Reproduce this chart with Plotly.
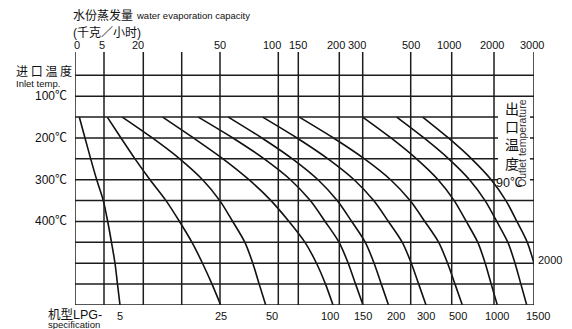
import plotly.graph_objects as go

# ---------------- data ----------------
# inlet temperature rows (℃) at which curve points were read
curve_temps = [150, 200, 250, 300, 350, 400, 450, 500, 550, 600]
# horizontal grid rows (℃)
grid_temps = [50, 100, 150, 200, 250, 300, 350, 400, 450, 500, 550, 600]
inlet_tick_vals = [100, 200, 300, 400]
inlet_tick_text = ["100℃", "200℃", "300℃", "400℃"]

# evaporation-capacity scale (nomogram units) and its labels
cap_line_pos = [0, 29, 68.3, 106.7, 145, 203.3, 223.3, 264.3, 287.7, 335.7, 376.7, 419, 459]
cap_labels = ["0", "5", "20", "", "50", "100", "150", "200", "300", "500", "1000", "2000", "3000"]

# LPG specification curves (x in nomogram units at each curve_temps row)
spec_labels = ["5", "25", "50", "100", "150", "200", "300", "500", "1000", "1500", "2000"]
curve_5 = [4.3, 10, 15.7, 21.7, 28.3, 32.7, 36.5, 40, 42.5, 45]
curve_25 = [32.3, 46, 60, 75, 91, 104.5, 117, 127.5, 137, 145.7]
curve_50 = [47.3, 77.4, 104.7, 127.6, 144.8, 157.7, 169.9, 177.8, 184.2, 190.7]
curve_100 = [87.7, 118.5, 148, 174, 196, 214, 230, 241.5, 250.5, 258]
curve_150 = [123.3, 157.9, 189.2, 215.5, 235.3, 250.1, 264.1, 273.2, 280.6, 288]
curve_200 = [153.3, 186.9, 217.4, 243, 262.2, 276.7, 290.3, 299.1, 306.3, 313.5]
curve_300 = [187.7, 222, 253, 279.1, 298.7, 313.4, 327.3, 336.3, 343.7, 351]
curve_500 = [224.3, 258.5, 289.5, 315.6, 335.1, 349.8, 363.7, 372.6, 380, 387.3]
curve_1000 = [287.7, 316, 341.5, 363.1, 379.2, 391.3, 402.8, 410.2, 416.2, 422.3]
curve_1500 = [321.7, 349, 373.7, 394.5, 410.1, 421.8, 432.9, 440, 445.9, 451.7]
curve_2000 = [347.7, 373.4, 396.6, 416.2, 430.9, 441.9, 452.3, 459, 464.5, 470]
curves = [curve_5, curve_25, curve_50, curve_100, curve_150, curve_200,
          curve_300, curve_500, curve_1000, curve_1500, curve_2000]
outlet_label = "90℃"

# ---------------- layout constants ----------------
OFF = 8                     # default page margin of the html body
W, H = 572 - OFF, 329 - OFF
ML, MT = 75 - OFF, 52 - OFF
MR = W - (534 - OFF)
MB = H - (305 - OFF)
PW, PH = W - ML - MR, H - MT - MB
XMAX = 459
YBOT = 600
PX_PER_DEG = 20.88 / 50.0
YTOP = YBOT - PH / PX_PER_DEG

LINE_C = "#1c1c1c"
TXT_C = "#111111"
LAT = "Liberation Sans, Arial, Noto Sans CJK SC, sans-serif"
CJK = "Noto Sans CJK SC, sans-serif"
MIX = "Liberation Sans, Arial, Noto Sans CJK SC, sans-serif"


def paper_x(px):
    return (px - OFF - ML) / PW


def paper_y(py):
    return ((H - MB) - (py - OFF)) / PH


fig = go.Figure()

for c in curves:
    fig.add_trace(go.Scatter(x=c, y=curve_temps, mode="lines",
                             line=dict(color="#111111", width=1.6, shape="spline", smoothing=0.8),
                             hoverinfo="skip", showlegend=False))

shapes = []
# vertical lines
for p in cap_line_pos:
    shapes.append(dict(type="line", xref="x", yref="paper", x0=p, x1=p, y0=0, y1=1,
                       line=dict(color=LINE_C, width=1.5)))
# horizontal lines (interrupted in the outlet-label column)
col_left = cap_line_pos[-2]
for t in grid_temps:
    if 150 <= t <= 300:
        shapes.append(dict(type="line", xref="x", yref="y", x0=0, x1=col_left + 4, y0=t, y1=t,
                           line=dict(color=LINE_C, width=1.5)))
        shapes.append(dict(type="line", xref="x", yref="y", x0=XMAX - 4, x1=XMAX, y0=t, y1=t,
                           line=dict(color=LINE_C, width=1.5)))
    else:
        shapes.append(dict(type="line", xref="x", yref="y", x0=0, x1=XMAX, y0=t, y1=t,
                           line=dict(color=LINE_C, width=1.5)))

ann = []
# top capacity labels
top_shift = [2, -2, -5, 0, 0, -6.5, 0, -3, -6, 0, -2.5, -2, -2]
for p, lab, s in zip(cap_line_pos, cap_labels, top_shift):
    if lab:
        ann.append(dict(x=p, y=1, xref="x", yref="paper", text=lab, showarrow=False,
                        xanchor="center", yanchor="bottom", xshift=s, yshift=-1,
                        font=dict(family=LAT, size=11, color=TXT_C)))
# bottom spec labels (at curve ends)
bot_shift = [0, 0, 6.5, -3, 0, 7, 0, -4, 0, 11.5]
for c, lab, s in zip(curves[:-1], spec_labels[:-1], bot_shift):
    ann.append(dict(x=c[-1], y=YBOT, xref="x", yref="y", text=lab, showarrow=False,
                    xanchor="center", yanchor="top", xshift=s, yshift=-3,
                    font=dict(family=LAT, size=11, color=TXT_C)))
# right label for last curve
ann.append(dict(x=XMAX, y=500, xref="x", yref="y", text=spec_labels[-1], showarrow=False,
                xanchor="left", yanchor="middle", xshift=2, yshift=3,
                font=dict(family=LAT, size=11, color=TXT_C)))
# left inlet temperature labels
for v, t in zip(inlet_tick_vals, inlet_tick_text):
    ann.append(dict(x=0, y=v, xref="x", yref="y", text=t, showarrow=False,
                    xanchor="right", yanchor="middle", xshift=-6,
                    font=dict(family=MIX, size=12, color=TXT_C)))


# titles / captions (positions in page pixels)
def add_text(text, px, py, size, fam, xanchor="left", color=TXT_C, angle=0):
    ann.append(dict(x=paper_x(px), y=paper_y(py), xref="paper", yref="paper", text=text,
                    showarrow=False, xanchor=xanchor, yanchor="middle", textangle=angle,
                    font=dict(family=fam, size=size, color=color)))


add_text("水份蒸发量", 71, 15, 12, CJK)
add_text("water evaporation capacity", 134, 15.5, 9.5, LAT)
add_text("(千克／小时)", 71, 33, 12, MIX)
add_text("进 口 温 度", 14, 70, 12, CJK)
add_text("Inlet temp.", 14, 83.5, 9.5, LAT)
add_text("机型LPG-", 46, 314.5, 12.5, MIX)
add_text("specification", 46, 324.5, 9.5, LAT)
add_text("出<br>口<br>温<br>度", 512, 136, 14, CJK, xanchor="center")
add_text("Outlet temperature", 522, 143, 10.5, LAT, xanchor="center", color="#333333", angle=-90)
add_text(outlet_label, 494, 183, 12.5, MIX)

fig.update_layout(
    width=W, height=H,
    margin=dict(l=ML, r=MR, t=MT, b=MB, pad=0),
    paper_bgcolor="white", plot_bgcolor="white",
    xaxis=dict(range=[0, XMAX], visible=False, fixedrange=True),
    yaxis=dict(range=[YBOT, YTOP], visible=False, fixedrange=True),
    shapes=shapes, annotations=ann, showlegend=False,
)

fig.write_html("out.html", config={"displayModeBar": False})
